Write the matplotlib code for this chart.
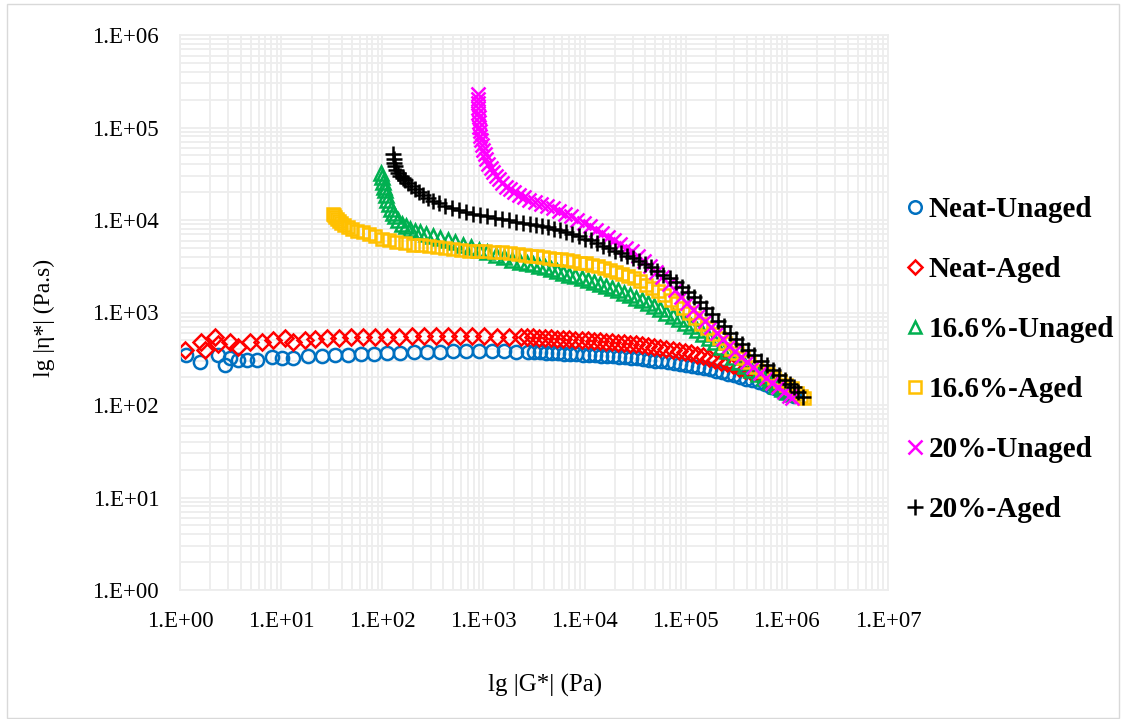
import matplotlib
matplotlib.use("Agg")
import matplotlib.pyplot as plt
import numpy as np
from matplotlib.ticker import LogLocator, FuncFormatter, NullFormatter
from matplotlib.patches import Rectangle

# ---- data (stored as lg values) ----
series_names = ["Neat-Unaged", "Neat-Aged", "16.6%-Unaged", "16.6%-Aged", "20%-Unaged", "20%-Aged"]

lgG_neat_unaged = [0.06, 0.20, 0.38, 0.44, 0.49, 0.57, 0.66, 0.76, 0.91, 1.01, 1.12, 1.27, 1.40, 1.53, 1.66,
                   1.79, 1.92, 2.05, 2.18, 2.31, 2.44, 2.57, 2.70, 2.83, 2.96, 3.08, 3.20, 3.32, 3.44,
                   3.50, 3.56, 3.62, 3.68, 3.74, 3.80, 3.86, 3.92, 3.98, 4.04, 4.10, 4.16, 4.22, 4.28, 4.34,
                   4.40, 4.46, 4.52, 4.58, 4.64, 4.70, 4.76, 4.82, 4.88, 4.94, 5.00, 5.06, 5.12, 5.18, 5.24,
                   5.30, 5.36, 5.42, 5.48, 5.54, 5.60, 5.66, 5.72, 5.78, 5.84, 5.90, 5.96, 6.02, 6.07]
lgEta_neat_unaged = [2.54, 2.47, 2.54, 2.43, 2.51, 2.49, 2.49, 2.49, 2.52, 2.51, 2.51, 2.53, 2.53, 2.54, 2.54,
                     2.55, 2.55, 2.56, 2.56, 2.57, 2.57, 2.57, 2.58, 2.58, 2.58, 2.58, 2.58, 2.57, 2.57,
                     2.57, 2.57, 2.565, 2.56, 2.56, 2.555, 2.55, 2.55, 2.545, 2.54, 2.54, 2.535, 2.53, 2.525, 2.52,
                     2.515, 2.51, 2.505, 2.50, 2.49, 2.48, 2.475, 2.465, 2.455, 2.445, 2.435, 2.425, 2.41, 2.40, 2.385,
                     2.37, 2.355, 2.34, 2.32, 2.30, 2.28, 2.265, 2.25, 2.225, 2.20, 2.17, 2.145, 2.12, 2.10]

lgG_neat_aged = [0.05, 0.21, 0.25, 0.35, 0.38, 0.49, 0.57, 0.69, 0.81, 0.92, 1.04, 1.12, 1.24, 1.33, 1.45,
                 1.57, 1.69, 1.81, 1.93, 2.05, 2.17, 2.29, 2.41, 2.53, 2.65, 2.77, 2.89, 3.01, 3.13, 3.25, 3.37,
                 3.43, 3.49, 3.55, 3.61, 3.67, 3.73, 3.79, 3.85, 3.91, 3.97, 4.03, 4.09, 4.15, 4.21, 4.27,
                 4.33, 4.39, 4.45, 4.51, 4.57, 4.63, 4.69, 4.75, 4.81, 4.87, 4.93, 4.99, 5.05, 5.11, 5.17,
                 5.23, 5.29, 5.35, 5.41, 5.47, 5.53, 5.59, 5.65, 5.71, 5.77, 5.83, 5.89, 5.95, 5.99]
lgEta_neat_aged = [2.60, 2.68, 2.60, 2.735, 2.66, 2.68, 2.63, 2.68, 2.68, 2.70, 2.72, 2.68, 2.70, 2.71, 2.72,
                   2.72, 2.73, 2.73, 2.74, 2.74, 2.74, 2.75, 2.75, 2.75, 2.75, 2.75, 2.75, 2.75, 2.74, 2.74, 2.73,
                   2.73, 2.73, 2.725, 2.72, 2.72, 2.715, 2.71, 2.71, 2.705, 2.70, 2.70, 2.695, 2.69, 2.685, 2.68,
                   2.675, 2.67, 2.66, 2.655, 2.645, 2.64, 2.63, 2.62, 2.61, 2.60, 2.585, 2.57, 2.56, 2.545, 2.53,
                   2.51, 2.49, 2.47, 2.45, 2.43, 2.40, 2.38, 2.355, 2.33, 2.29, 2.25, 2.21, 2.18, 2.15]

lgG_166_unaged = [1.99, 2.00, 2.01, 2.02, 2.03, 2.04, 2.05, 2.07, 2.09, 2.11, 2.13, 2.16, 2.19, 2.23, 2.27,
                  2.32, 2.37, 2.43, 2.50, 2.57, 2.65, 2.72, 2.80, 2.88, 2.96, 3.04, 3.12, 3.20, 3.28, 3.36, 3.43,
                  3.49, 3.55, 3.61, 3.67, 3.73, 3.79, 3.85, 3.91, 3.97, 4.03, 4.09, 4.15, 4.21, 4.27, 4.33,
                  4.39, 4.45, 4.51, 4.57, 4.63, 4.69, 4.75, 4.81, 4.87, 4.93, 4.99, 5.05, 5.11, 5.17, 5.23,
                  5.29, 5.35, 5.41, 5.47, 5.53, 5.59, 5.65, 5.71, 5.77, 5.83, 5.89, 5.95, 6.00, 6.04]
lgEta_166_unaged = [4.51, 4.46, 4.41, 4.36, 4.32, 4.27, 4.22, 4.17, 4.12, 4.08, 4.04, 4.00, 3.96, 3.93, 3.90,
                    3.88, 3.87, 3.85, 3.83, 3.81, 3.78, 3.76, 3.735, 3.71, 3.68, 3.65, 3.62, 3.595, 3.57, 3.55, 3.535,
                    3.52, 3.505, 3.49, 3.465, 3.45, 3.43, 3.41, 3.39, 3.37, 3.35, 3.33, 3.31, 3.285, 3.26, 3.24,
                    3.21, 3.19, 3.16, 3.13, 3.10, 3.07, 3.035, 3.00, 2.965, 2.93, 2.89, 2.855, 2.81, 2.77, 2.72,
                    2.68, 2.63, 2.58, 2.52, 2.47, 2.42, 2.38, 2.33, 2.29, 2.25, 2.21, 2.17, 2.14, 2.12]

lgG_166_aged = [1.51, 1.52, 1.53, 1.55, 1.57, 1.59, 1.62, 1.66, 1.70, 1.75, 1.81, 1.87, 1.93, 2.00, 2.07,
                2.14, 2.22, 2.30, 2.38, 2.46, 2.54, 2.62, 2.70, 2.78, 2.86, 2.94, 3.02, 3.10, 3.18, 3.26, 3.34, 3.41,
                3.47, 3.53, 3.59, 3.65, 3.71, 3.77, 3.83, 3.89, 3.95, 4.01, 4.07, 4.13, 4.19, 4.25, 4.31,
                4.37, 4.43, 4.49, 4.55, 4.61, 4.67, 4.73, 4.79, 4.85, 4.91, 4.97, 5.03, 5.09, 5.15, 5.21,
                5.27, 5.33, 5.39, 5.45, 5.51, 5.57, 5.63, 5.69, 5.75, 5.81, 5.87, 5.93, 5.99, 6.05, 6.10,
                6.14, 6.17]
lgEta_166_aged = [4.07, 4.05, 4.03, 4.01, 3.99, 3.97, 3.95, 3.925, 3.905, 3.885, 3.865, 3.845, 3.825, 3.80, 3.78,
                  3.765, 3.75, 3.735, 3.725, 3.715, 3.705, 3.695, 3.69, 3.68, 3.67, 3.665, 3.66, 3.655, 3.65, 3.64,
                  3.63, 3.625,
                  3.615, 3.61, 3.60, 3.59, 3.58, 3.575, 3.565, 3.555, 3.54, 3.53, 3.515, 3.50, 3.48, 3.46, 3.44,
                  3.42, 3.40, 3.37, 3.34, 3.30, 3.27, 3.23, 3.19, 3.14, 3.10, 3.05, 2.99, 2.94, 2.88, 2.83,
                  2.77, 2.72, 2.67, 2.61, 2.56, 2.51, 2.46, 2.41, 2.37, 2.33, 2.29, 2.255, 2.22, 2.18, 2.13,
                  2.10, 2.08]

lgG_20_unaged = [2.95, 2.95, 2.95, 2.95, 2.95, 2.955, 2.96, 2.96, 2.965, 2.97, 2.98, 2.99, 3.00, 3.02, 3.03,
                 3.05, 3.07, 3.09, 3.12, 3.15, 3.18, 3.22, 3.26, 3.30, 3.35, 3.40, 3.45, 3.51, 3.57, 3.63,
                 3.69, 3.75, 3.81, 3.87, 3.93, 3.99, 4.05, 4.11, 4.17, 4.23, 4.29, 4.35, 4.41, 4.47, 4.53,
                 4.59, 4.65, 4.71, 4.77, 4.83, 4.89, 4.95, 5.01, 5.07, 5.13, 5.19, 5.25, 5.31, 5.37, 5.43,
                 5.49, 5.55, 5.61, 5.67, 5.73, 5.79, 5.85, 5.91, 5.97, 6.02, 6.05]
lgEta_20_unaged = [5.36, 5.31, 5.26, 5.21, 5.16, 5.11, 5.06, 5.01, 4.96, 4.91, 4.86, 4.81, 4.76, 4.71, 4.66,
                   4.61, 4.56, 4.52, 4.48, 4.44, 4.40, 4.36, 4.33, 4.30, 4.27, 4.245, 4.22, 4.20, 4.175, 4.155,
                   4.13, 4.10, 4.07, 4.04, 4.005, 3.97, 3.93, 3.89, 3.86, 3.82, 3.78, 3.74, 3.70, 3.66, 3.61,
                   3.56, 3.50, 3.44, 3.38, 3.31, 3.24, 3.17, 3.10, 3.03, 2.97, 2.91, 2.84, 2.78, 2.71, 2.64,
                   2.58, 2.52, 2.47, 2.41, 2.35, 2.29, 2.24, 2.19, 2.14, 2.10, 2.08]

lgG_20_aged = [2.11, 2.115, 2.12, 2.13, 2.14, 2.16, 2.18, 2.20, 2.22, 2.25, 2.28, 2.32, 2.36, 2.40, 2.45,
               2.50, 2.56, 2.62, 2.69, 2.76, 2.83, 2.90, 2.97, 3.04, 3.11, 3.18, 3.25, 3.32, 3.39, 3.46,
               3.52, 3.58, 3.64, 3.70, 3.76, 3.82, 3.88, 3.94, 4.00, 4.06, 4.12, 4.18, 4.24, 4.30, 4.36,
               4.42, 4.48, 4.54, 4.60, 4.66, 4.72, 4.78, 4.84, 4.90, 4.96, 5.02, 5.08, 5.14, 5.20, 5.26,
               5.32, 5.38, 5.44, 5.50, 5.56, 5.62, 5.68, 5.74, 5.80, 5.86, 5.92, 5.98, 6.03, 6.07, 6.11, 6.16]
lgEta_20_aged = [4.71, 4.66, 4.62, 4.58, 4.54, 4.51, 4.48, 4.45, 4.43, 4.40, 4.37, 4.33, 4.30, 4.27, 4.24,
                 4.21, 4.18, 4.155, 4.13, 4.11, 4.09, 4.07, 4.055, 4.04, 4.025, 4.01, 3.995, 3.98, 3.97, 3.96,
                 3.945, 3.93, 3.92, 3.905, 3.89, 3.87, 3.85, 3.83, 3.80, 3.78, 3.75, 3.72, 3.695, 3.67, 3.64,
                 3.615, 3.585, 3.555, 3.52, 3.49, 3.45, 3.41, 3.37, 3.33, 3.28, 3.22, 3.17, 3.11, 3.05, 2.98,
                 2.91, 2.85, 2.78, 2.71, 2.66, 2.60, 2.54, 2.48, 2.43, 2.38, 2.32, 2.27, 2.23, 2.19, 2.14, 2.09]

x_label = "lg |G*| (Pa)"
y_label = "lg |\u03b7*| (Pa.s)"

# ---- styles ----
colors = ["#0070C0", "#FF0000", "#00B050", "#FFC000", "#FF00FF", "#000000"]
markers = ["o", "D", "^", "s", "x", "+"]
msizes = [9.5, 8.0, 9.5, 9.0, 10.0, 11.5]

data = [
    (lgG_neat_unaged, lgEta_neat_unaged),
    (lgG_neat_aged, lgEta_neat_aged),
    (lgG_166_unaged, lgEta_166_unaged),
    (lgG_166_aged, lgEta_166_aged),
    (lgG_20_unaged, lgEta_20_unaged),
    (lgG_20_aged, lgEta_20_aged),
]

plt.rcParams["font.family"] = ["Liberation Serif", "DejaVu Serif"]

W, H = 1121, 719
fig = plt.figure(figsize=(W / 100, H / 100), dpi=100)
ax = fig.add_axes([180 / W, 1 - 590 / H, 708 / W, 555 / H])

for (gx, ey), name, c, m, ms in zip(data, series_names, colors, markers, msizes):
    ax.plot(10 ** np.asarray(gx), 10 ** np.asarray(ey), linestyle="none", marker=m,
            markersize=ms, markerfacecolor="none", markeredgecolor=c,
            markeredgewidth=1.8, label=name)

ax.set_xscale("log")
ax.set_yscale("log")
ax.set_xlim(1, 1e7)
ax.set_ylim(1, 1e6)

ax.xaxis.set_major_locator(LogLocator(base=10, numticks=20))
ax.yaxis.set_major_locator(LogLocator(base=10, numticks=20))
ax.xaxis.set_minor_locator(LogLocator(base=10, subs=np.arange(2, 10), numticks=100))
ax.yaxis.set_minor_locator(LogLocator(base=10, subs=np.arange(2, 10), numticks=100))
fmt = FuncFormatter(lambda v, p: "1.E+%02d" % int(round(np.log10(v))))
ax.xaxis.set_major_formatter(fmt)
ax.yaxis.set_major_formatter(fmt)
ax.xaxis.set_minor_formatter(NullFormatter())
ax.yaxis.set_minor_formatter(NullFormatter())

ax.grid(True, which="both", color="#EDEDED", linewidth=1.3)
ax.set_axisbelow(True)
for s in ax.spines.values():
    s.set_color("#EDEDED")
    s.set_linewidth(1.3)
ax.tick_params(which="both", length=0)
ax.tick_params(axis="x", pad=15, labelsize=16.5)
ax.tick_params(axis="y", pad=15, labelsize=16.5)

fig.text(545 / W, 1 - 685 / H, x_label, ha="center", va="center", fontsize=18)
fig.text(44 / W, 1 - 318 / H, y_label, ha="center", va="center", rotation=90, fontsize=17)

leg = ax.legend(loc="center left", bbox_to_anchor=(907.7 / W, 1 - 359.5 / H),
                bbox_transform=fig.transFigure, frameon=False, borderpad=0, borderaxespad=0,
                handlelength=0.5, handletextpad=0.23, labelspacing=1.13,
                prop={"family": "Liberation Serif", "weight": "bold", "size": 21})
for h, ms in zip(leg.legend_handles, msizes):
    h.set_markersize(ms * 0.95)

fig.patches.append(Rectangle((7 / W, 1 / H), 1112 / W, 714 / H, transform=fig.transFigure,
                             fill=False, edgecolor="#D9D9D9", linewidth=1.0))

fig.savefig("out.png", dpi=100)
